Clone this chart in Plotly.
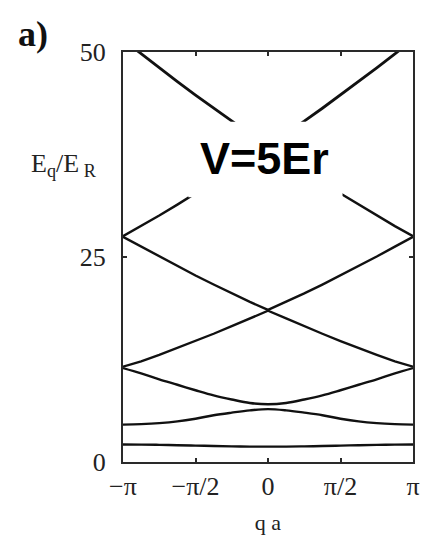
import numpy as np
import plotly.graph_objects as go

# Quasi-momentum grid, in units of pi/a
qa_over_pi = [-1.0, -0.875, -0.75, -0.625, -0.5, -0.375, -0.25, -0.125, 0.0,
              0.125, 0.25, 0.375, 0.5, 0.625, 0.75, 0.875, 1.0]

# Band energies E_q / E_R (V = 5 E_R)
band1 = [2.13, 2.12, 2.09, 2.05, 2.00, 1.95, 1.91, 1.88, 1.87,
         1.88, 1.91, 1.95, 2.00, 2.05, 2.09, 2.12, 2.13]
band2 = [4.56, 4.62, 4.74, 4.95, 5.28, 5.70, 6.02, 6.30, 6.45,
         6.30, 6.02, 5.70, 5.28, 4.95, 4.74, 4.62, 4.56]
band3 = [11.45, 10.80, 10.08, 9.42, 8.75, 8.12, 7.62, 7.20, 7.05,
         7.20, 7.62, 8.12, 8.75, 9.42, 10.08, 10.80, 11.45]
band4 = [11.62, 12.27, 13.06, 13.89, 14.75, 15.64, 16.56, 17.52, 18.45,
         17.52, 16.56, 15.64, 14.75, 13.89, 13.06, 12.27, 11.62]
band5 = [27.45, 26.27, 25.06, 23.89, 22.75, 21.64, 20.56, 19.52, 18.55,
         19.52, 20.56, 21.64, 22.75, 23.89, 25.06, 26.27, 27.45]
band6 = [27.55, 28.77, 30.06, 31.39, 32.75, 34.14, 35.56, 37.02, 38.45,
         37.02, 35.56, 34.14, 32.75, 31.39, 30.06, 28.77, 27.55]
band7 = [51.5, 49.77, 48.06, 46.39, 44.75, 43.14, 41.56, 40.02, 38.55,
         40.02, 41.56, 43.14, 44.75, 46.39, 48.06, 49.77, 51.5]

x_tick_vals = [-1.0, -0.5, 0.0, 0.5, 1.0]
x_tick_text = ["\u2212\u03c0", "\u2212\u03c0/2", "0", "\u03c0/2", "\u03c0"]
y_tick_vals = [0, 25, 50]
y_tick_text = ["0", "25", "50"]

q = np.pi * np.array(qa_over_pi)

fig = go.Figure()
bands = [band1, band2, band3, band4, band5, band6, band7]
for i, band in enumerate(bands):
    fig.add_trace(go.Scatter(
        x=q, y=band, mode="lines",
        line=dict(color="#111111", width=2.4 if i < 6 else 2.8,
                  shape="spline" if i < 3 else "linear"),
        showlegend=False, hoverinfo="skip",
    ))

serif = "Liberation Serif, Times New Roman, serif"
axis_common = dict(
    showgrid=False, zeroline=False, showline=True, linewidth=2,
    linecolor="#2a2a2a", mirror="allticks", ticks="inside", ticklen=4,
    tickwidth=2, tickcolor="#2a2a2a",
    tickfont=dict(family=serif, size=26, color="#222222"),
)

fig.update_layout(
    width=430, height=543,
    margin=dict(l=123, r=10, t=52, b=81),
    paper_bgcolor="white", plot_bgcolor="white",
    xaxis=dict(range=[-np.pi, np.pi],
               tickvals=[np.pi * v for v in x_tick_vals],
               ticktext=x_tick_text,
               title=dict(text="q a", font=dict(family=serif, size=22, color="#222222"),
                          standoff=14),
               **axis_common),
    yaxis=dict(range=[0, 50], tickvals=y_tick_vals, ticktext=y_tick_text,
               ticklabelstandoff=10, **axis_common),
    shapes=[dict(type="rect", xref="paper", yref="paper",
                 x0=0.225, x1=0.757, y0=0.646, y1=0.83,
                 fillcolor="white", line=dict(width=0), layer="above")],
    annotations=[
        dict(text="<b>V=5Er</b>", xref="paper", yref="paper", x=0.488, y=0.74,
             xanchor="center", yanchor="middle", showarrow=False,
             font=dict(family="Liberation Sans, Arial, sans-serif", size=45, color="black")),
        dict(text="E<sub>q</sub>/E<sub> R</sub>", xref="paper", yref="paper",
             x=-0.205, y=0.724, xanchor="center", yanchor="middle", showarrow=False,
             font=dict(family=serif, size=26, color="#222222")),
        dict(text="<b>a)</b>", xref="paper", yref="paper", x=-0.31, y=1.045,
             xanchor="center", yanchor="middle", showarrow=False,
             font=dict(family=serif, size=36, color="#111111")),
    ],
)

fig.write_html("out.html")
